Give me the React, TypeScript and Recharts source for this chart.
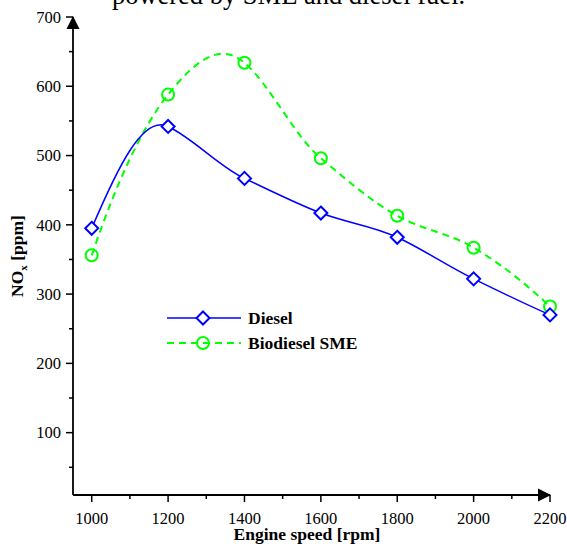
import React from 'react';
import { LineChart, Line, XAxis, YAxis, Legend } from 'recharts';

const speeds = [1000, 1200, 1400, 1600, 1800, 2000, 2200];
const dieselNox = [395, 542, 467, 417, 382, 322, 270];
const smeNox = [356, 588, 634, 496, 413, 367, 282];

const xTicks = [1000, 1100, 1200, 1300, 1400, 1500, 1600, 1700, 1800, 1900, 2000, 2100, 2200];
const xLabels = [1000, 1200, 1400, 1600, 1800, 2000, 2200];
const yTicks = [50, 100, 150, 200, 250, 300, 350, 400, 450, 500, 550, 600, 650, 700];
const yLabels = [100, 200, 300, 400, 500, 600, 700];

const data = speeds.map((rpm, i) => ({ rpm, diesel: dieselNox[i], sme: smeNox[i] }));

const BLUE = '#0000ff';
const GREEN = '#00ff00';
const FONT = '"Liberation Serif", "Times New Roman", serif';

// Akima spline as a d3-style curve factory
const akimaCurve = (context: any) => {
  let px: number[] = [];
  let py: number[] = [];
  return {
    areaStart() {},
    areaEnd() {},
    lineStart() {
      px = [];
      py = [];
    },
    point(x: number, y: number) {
      px.push(+x);
      py.push(+y);
    },
    lineEnd() {
      const n = px.length;
      if (!n) return;
      context.moveTo(px[0], py[0]);
      if (n < 3) {
        for (let i = 1; i < n; i++) context.lineTo(px[i], py[i]);
        return;
      }
      const d: number[] = [];
      for (let i = 0; i < n - 1; i++) d.push((py[i + 1] - py[i]) / (px[i + 1] - px[i]));
      const dm1 = 2 * d[0] - d[1];
      const dm2 = 2 * dm1 - d[0];
      const dn = 2 * d[n - 2] - d[n - 3];
      const dn1 = 2 * dn - d[n - 2];
      const e = [dm2, dm1, ...d, dn, dn1];
      const t: number[] = [];
      for (let i = 0; i < n; i++) {
        const w1 = Math.abs(e[i + 3] - e[i + 2]);
        const w2 = Math.abs(e[i + 1] - e[i]);
        t.push(w1 + w2 === 0 ? (e[i + 1] + e[i + 2]) / 2 : (w1 * e[i + 1] + w2 * e[i + 2]) / (w1 + w2));
      }
      for (let i = 0; i < n - 1; i++) {
        const h = (px[i + 1] - px[i]) / 3;
        context.bezierCurveTo(px[i] + h, py[i] + h * t[i], px[i + 1] - h, py[i + 1] - h * t[i + 1], px[i + 1], py[i + 1]);
      }
    },
  };
};

const Diamond = ({ cx, cy }: any) => (
  <path
    d={`M${cx},${cy - 6.5} L${cx + 6.5},${cy} L${cx},${cy + 6.5} L${cx - 6.5},${cy} Z`}
    fill="#fff"
    stroke={BLUE}
    strokeWidth={2}
  />
);

const Ring = ({ cx, cy }: any) => (
  <circle cx={cx} cy={cy} r={6} fill="none" stroke={GREEN} strokeWidth={2} />
);

const XTick = ({ x, y, payload }: any) => {
  const v = payload.value;
  const major = xLabels.includes(v);
  return (
    <g>
      <line x1={x} y1={y} x2={x} y2={y + (major ? 7 : 4)} stroke="#000" strokeWidth={1.5} />
      {major && (
        <text x={x} y={y + 28.5} textAnchor="middle" style={{ fontFamily: FONT, fontSize: 16.5 }} fill="#000">
          {v}
        </text>
      )}
      {v === 2200 && <path d={`M${x - 12},${y - 6.5} L${x + 1},${y} L${x - 12},${y + 6.5} Z`} fill="#000" />}
    </g>
  );
};

const YTick = ({ x, y, payload }: any) => {
  const v = payload.value;
  const major = yLabels.includes(v);
  return (
    <g>
      <line x1={x} y1={y} x2={x - (major ? 7 : 4)} y2={y} stroke="#000" strokeWidth={1.5} />
      {major && (
        <text x={x - 12} y={y} dy="0.35em" textAnchor="end" style={{ fontFamily: FONT, fontSize: 16.5 }} fill="#000">
          {v}
        </text>
      )}
      {v === 700 && <path d={`M${x - 6.5},${y + 12} L${x},${y - 1} L${x + 6.5},${y + 12} Z`} fill="#000" />}
    </g>
  );
};

const LegendBox = () => (
  <svg width={220} height={50} style={{ display: 'block' }}>
    <line x1={2} y1={13} x2={76} y2={13} stroke={BLUE} strokeWidth={1.5} />
    <Diamond cx={38} cy={13} />
    <text x={83} y={19} style={{ fontFamily: FONT, fontWeight: 'bold', fontSize: 17.5 }} fill="#000">Diesel</text>
    <line x1={2} y1={38} x2={76} y2={38} stroke={GREEN} strokeWidth={2} strokeDasharray="7 5" />
    <Ring cx={38} cy={38} />
    <text x={83} y={44} style={{ fontFamily: FONT, fontWeight: 'bold', fontSize: 17.5 }} fill="#000">Biodiesel SME</text>
  </svg>
);

export default function App() {
  return (
    <div style={{ position: 'absolute', left: 0, top: 0, width: 567, height: 544, background: '#fff', overflow: 'hidden' }}>
      <div
        style={{
          position: 'absolute',
          left: 0,
          width: 577,
          top: -20,
          textAlign: 'center',
          fontFamily: FONT,
          fontSize: 26.5,
          lineHeight: '30px',
          color: '#000',
        }}
      >
        powered by SME and diesel fuel.
      </div>
      <LineChart width={567} height={544} data={data} margin={{ top: 17, right: 17, left: 0, bottom: 0 }}>
        <XAxis
          dataKey="rpm"
          type="number"
          domain={[951, 2200]}
          ticks={xTicks}
          interval={0}
          height={49}
          tickSize={0}
          tickMargin={0}
          tickLine={false}
          axisLine={{ stroke: '#000', strokeWidth: 1.8 }}
          tick={<XTick />}
          label={({ viewBox }: any) => (
            <text
              x={307}
              y={viewBox.y + 45}
              textAnchor="middle"
              style={{ fontFamily: FONT, fontWeight: 'bold', fontSize: 17.5 }}
              fill="#000"
            >
              Engine speed [rpm]
            </text>
          )}
        />
        <YAxis
          type="number"
          domain={[10, 700]}
          ticks={yTicks}
          interval={0}
          width={73}
          tickSize={0}
          tickMargin={0}
          tickLine={false}
          axisLine={{ stroke: '#000', strokeWidth: 1.8 }}
          tick={<YTick />}
          label={({ viewBox }: any) => (
            <text
              x={23}
              y={viewBox.y + viewBox.height / 2}
              transform={`rotate(-90, 23, ${viewBox.y + viewBox.height / 2})`}
              textAnchor="middle"
              style={{ fontFamily: FONT, fontWeight: 'bold', fontSize: 17.5 }}
              fill="#000"
            >
              NO<tspan fontSize={11} dy={4}>x</tspan>
              <tspan dy={-4}> [ppm]</tspan>
            </text>
          )}
        />
        <Legend
          layout="vertical"
          align="center"
          verticalAlign="middle"
          content={() => <LegendBox />}
          wrapperStyle={{ left: 165, top: 305, width: 220 }}
        />
        <Line
          dataKey="sme"
          type={akimaCurve as any}
          stroke={GREEN}
          strokeWidth={2}
          strokeDasharray="7 5"
          dot={(p: any) => <Ring key={`s${p.index}`} cx={p.cx} cy={p.cy} />}
          isAnimationActive={false}
        />
        <Line
          dataKey="diesel"
          type={akimaCurve as any}
          stroke={BLUE}
          strokeWidth={1.5}
          dot={(p: any) => <Diamond key={`d${p.index}`} cx={p.cx} cy={p.cy} />}
          isAnimationActive={false}
        />
      </LineChart>
    </div>
  );
}
